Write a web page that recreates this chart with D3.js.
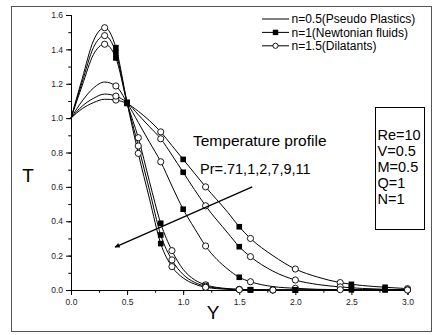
<!DOCTYPE html>
<html>
<head>
    <script src="https://d3js.org/d3.v7.min.js"></script>
    <style>
        body { margin: 0; background: #fff; }
        svg { font-family: "Liberation Sans", Arial, sans-serif; }
        .curve { fill: none; stroke: #000; stroke-width: 1px; }
        .tick-label { font-size: 8.5px; fill: #222; }
    </style>
</head>
<body>
    <div id="chart"></div>
    <script>
        // Y positions where the curves were sampled
        const yGrid = [0, 0.1, 0.2, 0.3, 0.4, 0.5, 0.6, 0.7, 0.8, 0.9, 1.0, 1.1, 1.2, 1.4, 1.5, 1.6, 1.8, 2.0, 2.2, 2.4, 2.5, 2.6, 2.8, 3.0];

        // temperature T for each Pr
        const tPr071 = [1.0, 1.055, 1.09, 1.11, 1.105, 1.085, 1.04, 0.985, 0.92, 0.84, 0.76, 0.68, 0.60, 0.45, 0.368, 0.30, 0.20, 0.122, 0.075, 0.043, 0.033, 0.026, 0.016, 0.008];
        const tPr1   = [1.0, 1.07, 1.115, 1.14, 1.128, 1.09, 1.02, 0.95, 0.88, 0.785, 0.685, 0.585, 0.49, 0.33, 0.252, 0.194, 0.11, 0.058, 0.032, 0.018, 0.013, 0.009, 0.004, 0.001];
        const tPr2   = [1.0, 1.10, 1.175, 1.21, 1.187, 1.09, 0.975, 0.86, 0.746, 0.605, 0.47, 0.36, 0.256, 0.12, 0.074, 0.048, 0.02, 0.01, 0.004, 0.002, 0.001, 0.001, 0, 0];
        const tPr7   = [1.0, 1.19, 1.37, 1.43, 1.35, 1.09, 0.886, 0.63, 0.388, 0.229, 0.12, 0.06, 0.03, 0.008, 0.004, 0.002, 0.001, 0, 0, 0, 0, 0, 0, 0];
        const tPr9   = [1.0, 1.21, 1.41, 1.48, 1.38, 1.09, 0.838, 0.58, 0.32, 0.175, 0.09, 0.045, 0.022, 0.006, 0.003, 0.001, 0, 0, 0, 0, 0, 0, 0, 0];
        const tPr11  = [1.0, 1.23, 1.45, 1.526, 1.41, 1.09, 0.795, 0.53, 0.27, 0.136, 0.07, 0.035, 0.016, 0.004, 0.002, 0.001, 0, 0, 0, 0, 0, 0, 0, 0];

        const broadCurves = [tPr071, tPr1, tPr2];
        const steepCurves = [tPr7, tPr9, tPr11];

        // where the symbols sit on each group of curves
        const broadCircleAt = [0.4, 0.8, 1.2, 1.6, 2.0, 2.4, 3.0];
        const broadSquareAt = [0.5, 1.0, 1.5, 2.5, 2.8];
        const steepCircleAt = [0.3, 0.6, 0.9, 1.2, 1.5, 1.8];
        const steepSquareAt = [0.4, 0.5, 0.8, 1.2, 1.6, 2.0];

        const legendLabels = ["n=0.5(Pseudo Plastics)", "n=1(Newtonian fluids)", "n=1.5(Dilatants)"];
        const paramLabels = ["Re=10", "V=0.5", "M=0.5", "Q=1", "N=1"];
        const arrowFrom = [1.616, 0.60];
        const arrowTo = [0.393, 0.25];

        const width = 434, height = 335;
        const svg = d3.select("#chart").append("svg")
            .attr("width", width).attr("height", height);

        // outer frame
        svg.append("rect").attr("x", 11.5).attr("y", 6.5)
            .attr("width", 420).attr("height", 325)
            .attr("fill", "none").attr("stroke", "#555");

        const x = d3.scaleLinear().domain([0, 3]).range([71, 407.5]);
        const y = d3.scaleLinear().domain([0, 1.6]).range([290, 15]);

        // x axis
        const gx = svg.append("g").attr("transform", "translate(0,290)");
        gx.append("g").call(d3.axisBottom(x).tickValues(d3.range(0, 3.01, 0.25)).tickSize(2.7).tickFormat(""));
        gx.append("g").call(d3.axisBottom(x).tickValues(d3.range(0, 3.01, 0.5)).tickSize(5).tickPadding(4).tickFormat(d3.format(".1f")));
        // y axis
        const gy = svg.append("g").attr("transform", "translate(71,0)");
        gy.append("g").call(d3.axisLeft(y).tickValues(d3.range(0, 1.61, 0.1)).tickSize(2.7).tickFormat(""));
        gy.append("g").call(d3.axisLeft(y).tickValues(d3.range(0, 1.61, 0.2)).tickSize(5).tickPadding(3).tickFormat(d3.format(".1f")));

        svg.selectAll(".domain").attr("stroke", "#000");
        svg.selectAll(".tick line").attr("stroke", "#000");
        svg.selectAll(".tick text").attr("class", "tick-label").attr("font-family", null).attr("font-size", null);

        // axis titles
        svg.append("text").attr("x", 28).attr("y", 182).attr("text-anchor", "middle")
            .attr("font-size", 19).text("T");
        svg.append("text").attr("x", 213).attr("y", 319).attr("text-anchor", "middle")
            .attr("font-size", 19).text("Y");

        // curves
        const line = d3.line()
            .x((d, i) => x(yGrid[i]))
            .y(d => y(d))
            .curve(d3.curveMonotoneX);

        const allCurves = broadCurves.concat(steepCurves);
        svg.selectAll(".curve").data(allCurves).enter()
            .append("path").attr("class", "curve").attr("d", line);

        function valueAt(series, yv) {
            return series[yGrid.findIndex(g => Math.abs(g - yv) < 1e-9)];
        }

        function drawMarkers(curves, circleAt, squareAt) {
            curves.forEach(series => {
                squareAt.forEach(yv => {
                    svg.append("rect")
                        .attr("x", x(yv) - 2.8).attr("y", y(valueAt(series, yv)) - 2.8)
                        .attr("width", 5.6).attr("height", 5.6).attr("fill", "#000");
                });
                circleAt.forEach(yv => {
                    svg.append("circle")
                        .attr("cx", x(yv)).attr("cy", y(valueAt(series, yv)))
                        .attr("r", 3.1).attr("fill", "#fff").attr("stroke", "#000").attr("stroke-width", 0.9);
                });
            });
        }
        drawMarkers(broadCurves, broadCircleAt, broadSquareAt);
        drawMarkers(steepCurves, steepCircleAt, steepSquareAt);

        // arrow across the curves
        svg.append("defs").append("marker")
            .attr("id", "head").attr("viewBox", "0 0 10 10")
            .attr("refX", 9).attr("refY", 5)
            .attr("markerWidth", 10).attr("markerHeight", 5)
            .attr("markerUnits", "userSpaceOnUse")
            .attr("orient", "auto")
            .append("path").attr("d", "M0,0L10,5L0,10z").attr("fill", "#000");
        svg.append("line")
            .attr("x1", x(arrowFrom[0])).attr("y1", y(arrowFrom[1]))
            .attr("x2", x(arrowTo[0])).attr("y2", y(arrowTo[1]))
            .attr("stroke", "#000").attr("stroke-width", 1.3)
            .attr("marker-end", "url(#head)");

        // annotations
        svg.append("text").attr("x", 193).attr("y", 145.5).attr("font-size", 15.5).text("Temperature profile");
        svg.append("text").attr("x", 200).attr("y", 174).attr("font-size", 14.5).text("Pr=.71,1,2,7,9,11");

        svg.append("rect").attr("x", 375.5).attr("y", 107.5).attr("width", 49).attr("height", 122)
            .attr("fill", "none").attr("stroke", "#000");
        svg.selectAll(".param").data(paramLabels).enter().append("text")
            .attr("x", 377.5).attr("y", (d, i) => 139.5 + i * 16.1)
            .attr("font-size", 14.5).text(d => d);

        // legend
        const lg = svg.append("g").attr("transform", "translate(262,19)");
        legendLabels.forEach((label, i) => {
            const row = lg.append("g").attr("transform", `translate(0,${i * 13.4})`);
            row.append("line").attr("x1", 0).attr("x2", 27).attr("stroke", "#000");
            if (i === 1) row.append("rect").attr("x", 10.8).attr("y", -2.7).attr("width", 5.4).attr("height", 5.4).attr("fill", "#000");
            if (i === 2) row.append("circle").attr("cx", 13.5).attr("r", 2.6).attr("fill", "#fff").attr("stroke", "#000").attr("stroke-width", 0.9);
            row.append("text").attr("x", 29.5).attr("y", 4.3).attr("font-size", 12).text(label);
        });
    </script>
</body>
</html>
